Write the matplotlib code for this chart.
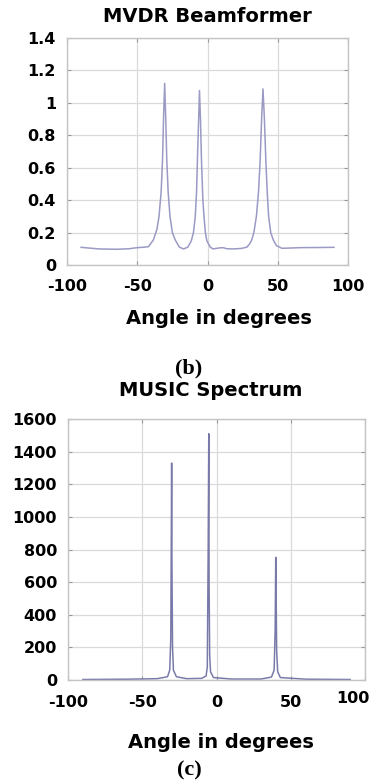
import matplotlib
matplotlib.use("Agg")
import matplotlib.pyplot as plt
import matplotlib.transforms as mtransforms

plt.rcParams["axes.unicode_minus"] = False

# ---- MVDR beamformer spectrum (panel b) ----
mvdr_angle = [-90, -85, -77, -65, -56, -50, -45, -42, -38.5, -36, -34.5, -33, -32, -31.3,
              -30.5, -29.7, -29, -28, -26.7, -25, -23, -20, -17, -14, -11.5, -10, -8.7,
              -7.8, -7, -6.3, -5.7, -5, -4.3, -3.3, -2.5, -1.5, -0.5, 2, 4, 8, 11, 14, 18,
              24, 28, 30, 31.5, 33, 34.8, 36.3, 37.5, 38.5, 39.5, 40.5, 41.5, 42.5, 43.5,
              45, 46.8, 49, 53, 60, 66, 80, 90]
mvdr_power = [0.109, 0.105, 0.099, 0.097, 0.100, 0.107, 0.110, 0.113, 0.155, 0.22, 0.30,
              0.45, 0.65, 0.90, 1.12, 0.90, 0.65, 0.45, 0.30, 0.20, 0.155, 0.11, 0.099,
              0.11, 0.15, 0.20, 0.30, 0.45, 0.70, 0.90, 1.076, 0.90, 0.65, 0.40, 0.30,
              0.20, 0.15, 0.11, 0.099, 0.105, 0.107, 0.100, 0.099, 0.102, 0.110, 0.130,
              0.155, 0.20, 0.30, 0.45, 0.65, 0.90, 1.086, 0.90, 0.65, 0.45, 0.30, 0.20,
              0.155, 0.12, 0.103, 0.105, 0.107, 0.108, 0.109]

# ---- MUSIC pseudo-spectrum (panel c) ----
music_angle = [-90, -60, -40, -33, -31.5, -30.8, -30.4, -30.2, -30.0, -29.6, -29, -27,
               -20, -10, -7, -6.2, -5.6, -5.2, -5.0, -4.6, -4, -2, 10, 30, 37, 38.8,
               39.5, 39.9, 40.1, 40.5, 41.2, 43, 60, 90]
music_power = [3, 5, 8, 20, 60, 250, 940, 1330, 700, 200, 60, 20,
               8, 10, 25, 80, 800, 1510, 600, 150, 50, 15, 6, 6, 18, 60,
               300, 752, 590, 180, 50, 15, 5, 3]

x_ticks = [-100, -50, 0, 50, 100]
mvdr_yticks = [0, 0.2, 0.4, 0.6, 0.8, 1, 1.2, 1.4]
mvdr_ylabels = ["0", "0.2", "0.4", "0.6", "0.8", "1", "1.2", "1.4"]
music_yticks = [0, 200, 400, 600, 800, 1000, 1200, 1400, 1600]

W, H = 373, 782
fig = plt.figure(figsize=(W / 100, H / 100), dpi=100)
fig.patch.set_facecolor("white")

tick_font = dict(family="DejaVu Sans", weight="bold", size=11.5)
frame_col = "#c4c4c4"
grid_col = "#dadada"


def px_axes(x0, y0, x1, y1):
    return fig.add_axes([x0 / W, 1 - y1 / H, (x1 - x0) / W, (y1 - y0) / H])


def style(ax):
    for s in ax.spines.values():
        s.set_color(frame_col)
        s.set_linewidth(1.0)
    ax.grid(True, color=grid_col, linewidth=0.9, linestyle="-")
    ax.set_axisbelow(True)
    ax.tick_params(direction="in", length=3, color="#999999", top=True, right=True)
    for lab in ax.get_xticklabels() + ax.get_yticklabels():
        lab.set_fontproperties(matplotlib.font_manager.FontProperties(**tick_font))


# Panel (b)
ax1 = px_axes(67, 38, 348, 265)
ax1.plot(mvdr_angle, mvdr_power, color="#9a9ac4", linewidth=1.1)
ax1.set_xlim(-100, 100)
ax1.set_ylim(0, 1.4)
ax1.set_xticks(x_ticks)
ax1.set_yticks(mvdr_yticks)
ax1.set_yticklabels(mvdr_ylabels)
ax1.tick_params(axis="x", pad=10)
ax1.tick_params(axis="y", pad=8)
style(ax1)

# Panel (c)
ax2 = px_axes(68, 419, 365, 680)
ax2.plot(music_angle, music_power, color="#7a7aaa", linewidth=1.1)
ax2.set_xlim(-100, 100)
ax2.set_ylim(0, 1600)
ax2.set_xticks(x_ticks)
ax2.set_yticks(music_yticks)
ax2.tick_params(axis="x", pad=11)
ax2.tick_params(axis="y", pad=8)
style(ax2)
# the last x tick label sits a little higher and further left in the original
lab = ax2.get_xticklabels()[-1]
lab.set_transform(lab.get_transform() + mtransforms.ScaledTranslation(-12 / 100, 4 / 100, fig.dpi_scale_trans))

title_font = dict(family="DejaVu Sans", weight="bold", size=14, ha="center", va="center")
fig.text(207 / W, 1 - 16 / H, "MVDR Beamformer", **title_font)
fig.text(211 / W, 1 - 390 / H, "MUSIC Spectrum", **title_font)
fig.text(219 / W, 1 - 318 / H, "Angle in degrees", **title_font)
fig.text(221 / W, 1 - 742 / H, "Angle in degrees", **title_font)

cap_font = dict(family="Liberation Serif", weight="bold", size=16, ha="center", va="center")
fig.text(189 / W, 1 - 368 / H, "(b)", **cap_font)
fig.text(189 / W, 1 - 770 / H, "(c)", **cap_font)

fig.savefig("out.png", dpi=100, facecolor="white")
